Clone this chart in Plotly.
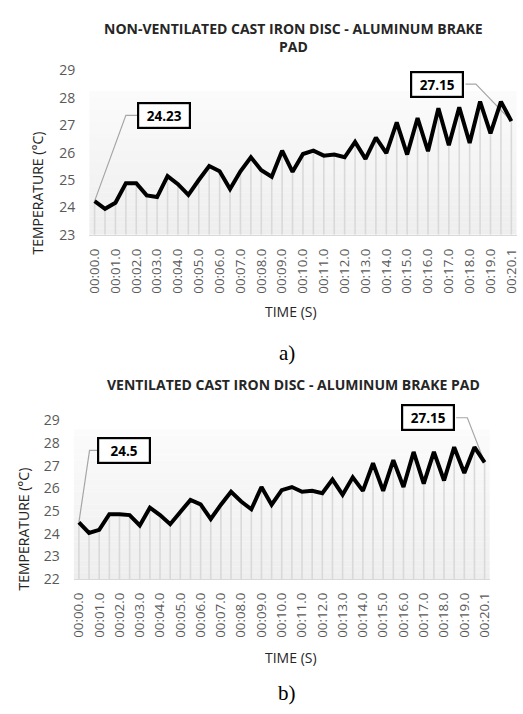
import plotly.graph_objects as go

# ---------------- data ----------------
TIME_LABELS = ["00:00.0", "00:01.0", "00:02.0", "00:03.0", "00:04.0", "00:05.0", "00:06.0",
               "00:07.0", "00:08.0", "00:09.0", "00:10.0", "00:11.0", "00:12.0", "00:13.0",
               "00:14.0", "00:15.0", "00:16.0", "00:17.0", "00:18.0", "00:19.0", "00:20.1"]

TEMP_NON_VENTILATED = [24.23, 23.95, 24.17, 24.88, 24.88, 24.44, 24.38, 25.14, 24.85, 24.46,
                       25.00, 25.51, 25.32, 24.67, 25.32, 25.83, 25.36, 25.12, 26.07, 25.30,
                       25.95, 26.07, 25.89, 25.93, 25.83, 26.39, 25.77, 26.55, 25.98, 27.10,
                       25.93, 27.26, 26.05, 27.62, 26.27, 27.65, 26.35, 27.86, 26.70, 27.86,
                       27.15]

TEMP_VENTILATED = [24.50, 24.03, 24.17, 24.86, 24.86, 24.82, 24.36, 25.15, 24.82, 24.42,
                   24.96, 25.49, 25.29, 24.65, 25.28, 25.85, 25.42, 25.08, 26.06, 25.28,
                   25.92, 26.06, 25.85, 25.89, 25.79, 26.39, 25.72, 26.49, 25.89, 27.11,
                   25.89, 27.25, 26.06, 27.61, 26.21, 27.61, 26.35, 27.82, 26.68, 27.82,
                   27.15]

TITLE_A = "NON-VENTILATED CAST IRON DISC - ALUMINUM BRAKE<br>PAD"
TITLE_B = "VENTILATED CAST IRON DISC - ALUMINUM BRAKE PAD"

W, H = 523, 714
FONT = "Open Sans"
TICK_COLOR = "#595959"


def px_x(p):
    return p / W


def px_y(p):
    return 1 - p / H


fig = go.Figure()

panels = [
    dict(vals=TEMP_NON_VENTILATED, xa="x", ya="y", xname="xaxis", yname="yaxis",
         yr=(23, 29), ytop_range=29, xdom=(85.7, 519.5), y_base_px=231.0, y_top_px=62.0,
         grad_top=28.25, title=TITLE_A, title_y=28, ytitle_x=34, ytitle_y=188,
         timetitle_y=310, cap="a)", cap_y=352,
         lab1=dict(dx=6.7, y=27.36, elbow_dx=3.0, edge_dx=4.1),
         lab2=dict(dx=-7.1, y=28.50, elbow_dx=-3.4, edge_dx=-4.4)),
    dict(vals=TEMP_VENTILATED, xa="x2", ya="y2", xname="xaxis2", yname="yaxis2",
         yr=(22, 29), ytop_range=29.5, xdom=(69.9, 492.2), y_base_px=584.5, y_top_px=421.7,
         grad_top=28.6, title=TITLE_B, title_y=385, ytitle_x=19, ytitle_y=533,
         timetitle_y=665, cap="b)", cap_y=702,
         lab1=dict(dx=4.45, y=27.68, elbow_dx=1.05, edge_dx=2.1),
         lab2=dict(dx=-5.6, y=29.12, elbow_dx=-1.7, edge_dx=-2.8)),
]

n = len(TEMP_NON_VENTILATED)
idx = list(range(n))

for p in panels:
    vals = p["vals"]
    base, top = p["yr"]
    ppu = (p["y_base_px"] - p["y_top_px"]) / (top - base)
    top_px = p["y_base_px"] - (p["ytop_range"] - base) * ppu
    fig.layout[p["xname"]] = dict(
        domain=[px_x(p["xdom"][0]), min(1.0, px_x(p["xdom"][1]))],
        range=[-0.5, n - 0.5], anchor=p["ya"],
        tickmode="array", tickvals=list(range(0, n, 2)), ticktext=TIME_LABELS,
        tickangle=-90, tickfont=dict(family=FONT, size=13.3, color=TICK_COLOR),
        showgrid=False, zeroline=False, showline=True, linecolor="#d9d9d9", linewidth=1.5,
        ticks="", ticklabelstandoff=7, fixedrange=True,
    )
    fig.layout[p["yname"]] = dict(
        domain=[px_y(p["y_base_px"]), px_y(top_px)],
        range=[base, p["ytop_range"]], anchor=p["xa"],
        tickmode="array", tickvals=list(range(base, top + 1)),
        tickfont=dict(family=FONT, size=14, color=TICK_COLOR),
        showgrid=False, zeroline=False, showline=False, ticks="",
        ticklabelstandoff=13, fixedrange=True,
    )

    # gradient plot-area background
    steps = 24
    span = p["grad_top"] - base
    for k in range(steps):
        y0 = base + span * k / steps
        y1 = base + span * (k + 1) / steps
        t = k / (steps - 1)
        c = int(round(0xEE + (0xFB - 0xEE) * t))
        fig.add_shape(type="rect", xref=f"{p['xa']} domain", yref=p["ya"],
                      x0=0, x1=1, y0=y0, y1=y1, line_width=0,
                      fillcolor=f"rgb({c},{c},{c})", layer="below")

    # drop lines
    fig.add_trace(go.Scatter(
        x=idx, y=vals, xaxis=p["xa"], yaxis=p["ya"], mode="markers",
        marker=dict(size=1, opacity=0), hoverinfo="skip", showlegend=False,
        error_y=dict(type="data", symmetric=False, array=[0] * n,
                     arrayminus=[v - base for v in vals],
                     color="#d9d9d9", thickness=1.6, width=0),
    ))

    # leader lines for labels
    first_x, first_y = 0, vals[0]
    last_x, last_y = n - 1, vals[-1]
    l1 = p["lab1"]
    l2 = p["lab2"]
    fig.add_trace(go.Scatter(
        x=[first_x, first_x + l1["elbow_dx"], first_x + l1["edge_dx"], None,
           last_x, last_x + l2["elbow_dx"], last_x + l2["edge_dx"]],
        y=[first_y, l1["y"], l1["y"], None, last_y, l2["y"], l2["y"]],
        xaxis=p["xa"], yaxis=p["ya"], mode="lines",
        line=dict(color="#a6a6a6", width=1.2), hoverinfo="skip", showlegend=False,
    ))

    # main line
    fig.add_trace(go.Scatter(
        x=idx, y=vals, xaxis=p["xa"], yaxis=p["ya"], mode="lines",
        line=dict(color="#000000", width=4), showlegend=False,
    ))

    # data label boxes
    for (xx, yy, lab) in [(first_x + l1["dx"], l1["y"], vals[0]),
                          (last_x + l2["dx"], l2["y"], vals[-1])]:
        fig.add_annotation(
            x=xx, y=yy, xref=p["xa"], yref=p["ya"], showarrow=False,
            text=f"<b>{lab:g}</b>", font=dict(family=FONT, size=13.5, color="#000000"),
            bgcolor="#ffffff", bordercolor="#000000", borderwidth=2.2, borderpad=2,
            width=46, height=19, xanchor="center", yanchor="middle",
        )

    # chart title
    fig.add_annotation(
        x=px_x(293), y=px_y(p["title_y"]), xref="paper", yref="paper", showarrow=False,
        text=f"<b>{p['title']}</b>", font=dict(family=FONT, size=14, color="#262626"),
        xanchor="center", yanchor="middle",
    )
    # y-axis title
    fig.add_annotation(
        x=px_x(p["ytitle_x"]), y=px_y(p["ytitle_y"]), xref="paper", yref="paper",
        showarrow=False, text="TEMPERATURE (°C)", textangle=-90,
        font=dict(family=FONT, size=14, color="#262626"),
        xanchor="center", yanchor="middle",
    )
    # x-axis title
    fig.add_annotation(
        x=px_x(290), y=px_y(p["timetitle_y"]), xref="paper", yref="paper",
        showarrow=False, text="TIME (S)",
        font=dict(family=FONT, size=14, color="#262626"),
        xanchor="center", yanchor="middle",
    )
    # caption
    fig.add_annotation(
        x=px_x(286), y=px_y(p["cap_y"]), xref="paper", yref="paper",
        showarrow=False, text=p["cap"],
        font=dict(family="Liberation Serif", size=21, color="#000000"),
        xanchor="center", yanchor="middle",
    )

fig.update_layout(
    width=W, height=H, margin=dict(l=0, r=0, t=0, b=0),
    paper_bgcolor="#ffffff", plot_bgcolor="rgba(0,0,0,0)",
    showlegend=False,
)

fig.write_html("out.html",
               config={"displayModeBar": False, "staticPlot": True},
               post_script="document.body.style.margin='0';document.body.style.overflow='hidden';")
